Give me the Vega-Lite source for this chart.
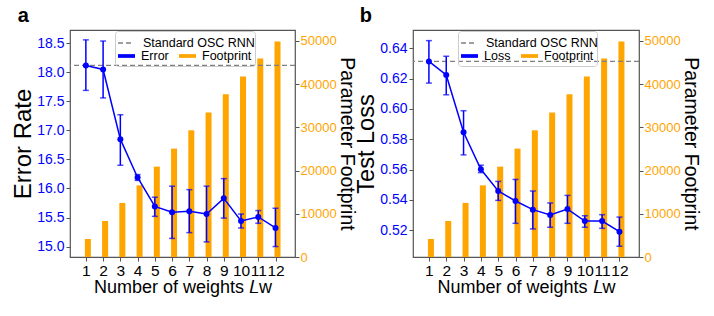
{
  "$schema": "https://vega.github.io/schema/vega-lite/v6.json",
  "padding": {"left": 11, "top": 5, "right": 0, "bottom": 0},
  "spacing": -3,
  "config": {
    "font": "Liberation Sans",
    "view": {"stroke": "#555555", "strokeWidth": 1.2},
    "axis": {"labelFont": "Liberation Sans", "titleFont": "Liberation Sans", "titleFontWeight": "normal", "titleColor": "black", "grid": false, "domain": false, "tickColor": "#555555", "tickSize": 4, "tickWidth": 1, "labelFlush": false, "labelOverlap": false},
    "legend": {"labelFont": "Liberation Sans", "titleFont": "Liberation Sans", "labelColor": "black"}
  },
  "datasets": {
    "a": [
      {"k": 1, "v": 18.12, "lo": 17.69, "hi": 18.56, "fp": 4170},
      {"k": 2, "v": 18.05, "lo": 17.56, "hi": 18.54, "fp": 8330},
      {"k": 3, "v": 16.85, "lo": 16.40, "hi": 17.27, "fp": 12500},
      {"k": 4, "v": 16.19, "lo": 16.14, "hi": 16.24, "fp": 16570},
      {"k": 5, "v": 15.69, "lo": 15.52, "hi": 15.85, "fp": 20900},
      {"k": 6, "v": 15.59, "lo": 15.14, "hi": 16.04, "fp": 25070},
      {"k": 7, "v": 15.61, "lo": 15.24, "hi": 15.98, "fp": 29300},
      {"k": 8, "v": 15.56, "lo": 15.08, "hi": 16.04, "fp": 33400},
      {"k": 9, "v": 15.83, "lo": 15.49, "hi": 16.17, "fp": 37640},
      {"k": 10, "v": 15.44, "lo": 15.32, "hi": 15.56, "fp": 41740},
      {"k": 11, "v": 15.51, "lo": 15.40, "hi": 15.62, "fp": 45900},
      {"k": 12, "v": 15.32, "lo": 15.00, "hi": 15.66, "fp": 49850}
    ],
    "b": [
      {"k": 1, "v": 0.6313, "lo": 0.6170, "hi": 0.6450, "fp": 4170},
      {"k": 2, "v": 0.6224, "lo": 0.6093, "hi": 0.6347, "fp": 8330},
      {"k": 3, "v": 0.5846, "lo": 0.5697, "hi": 0.5988, "fp": 12500},
      {"k": 4, "v": 0.5602, "lo": 0.5580, "hi": 0.5629, "fp": 16570},
      {"k": 5, "v": 0.5459, "lo": 0.5397, "hi": 0.5522, "fp": 20900},
      {"k": 6, "v": 0.5393, "lo": 0.5246, "hi": 0.5535, "fp": 25070},
      {"k": 7, "v": 0.5336, "lo": 0.5209, "hi": 0.5459, "fp": 29300},
      {"k": 8, "v": 0.5301, "lo": 0.5220, "hi": 0.5380, "fp": 33400},
      {"k": 9, "v": 0.5340, "lo": 0.5246, "hi": 0.5430, "fp": 37640},
      {"k": 10, "v": 0.5261, "lo": 0.5220, "hi": 0.5296, "fp": 41740},
      {"k": 11, "v": 0.5261, "lo": 0.5213, "hi": 0.5303, "fp": 45900},
      {"k": 12, "v": 0.5191, "lo": 0.5095, "hi": 0.5287, "fp": 49850}
    ],
    "stdA": [{"std": 18.12}],
    "stdB": [{"std": 0.6313}]
  },
  "hconcat": [
    {
      "title": {"text": "a", "anchor": "start", "frame": "bounds", "fontSize": 20, "fontWeight": "bold", "dx": 6, "offset": 4},
      "width": 225,
      "height": 227,
      "data": {"name": "a"},
      "layer": [
        {
          "mark": {"type": "bar", "width": 6, "xOffset": 2},
          "encoding": {
            "x": {"field": "k", "type": "quantitative", "scale": {"domain": [0.37, 12.84], "nice": false, "zero": false},
                  "axis": {"values": [1,2,3,4,5,6,7,8,9,10,11,12], "labelOverlap": false, "labelFontSize": 15.5, "labelColor": "black", "labelPadding": 2, "title": "Number of weights 𝐿ᴡ", "titleFontSize": 18, "titlePadding": 0}},
            "y": {"field": "fp", "type": "quantitative", "scale": {"domain": [0, 52500], "nice": false},
                  "axis": {"orient": "right", "values": [0,10000,20000,30000,40000,50000], "labelOverlap": false, "format": "d", "labelColor": "#FFA500", "labelFontSize": 13, "labelPadding": 1, "title": "Parameter Footprint", "titleFontSize": 19.5, "titlePadding": 0}},
            "color": {"datum": "Footprint", "scale": {"domain": ["Error", "Footprint"], "range": ["#0000FF", "#FFA500"]},
                      "legend": {"orient": "none", "legendX": 45, "legendY": 1, "direction": "horizontal", "title": "                                      ", "titleColor": "rgba(0,0,0,0)", "titleFontSize": 12.5, "titleFontWeight": "normal", "titlePadding": 1, "strokeColor": "#cccccc", "cornerRadius": 3, "padding": 3, "symbolType": "M-1,-0.22H1V0.22H-1Z", "symbolSize": 289, "symbolStrokeWidth": 0, "labelFontSize": 12.5, "labelOffset": 6, "columnPadding": 10}}
          }
        },
        {
          "layer": [
            {
              "data": {"name": "stdA"},
              "mark": {"type": "rule", "color": "#808080", "strokeWidth": 1.3},
              "encoding": {
                "y": {"field": "std", "type": "quantitative", "scale": {"domain": [14.82, 18.73], "nice": false, "zero": false},
                      "axis": {"orient": "left", "values": [15,15.5,16,16.5,17,17.5,18,18.5], "labelOverlap": false, "format": ".1f", "labelColor": "#0000FF", "labelFontSize": 14, "labelPadding": 2, "title": "Error Rate", "titleFontSize": 24, "titlePadding": 1}},
                "strokeDash": {"datum": "Standard OSC RNN", "scale": {"range": [[5, 3]]},
                               "legend": {"orient": "none", "legendX": 47, "legendY": 4, "title": null, "symbolType": "stroke", "symbolStrokeColor": "#808080", "symbolStrokeWidth": 1.5, "symbolSize": 256, "labelFontSize": 12.5, "labelOffset": 8, "padding": 0}}
              }
            },
            {
              "mark": {"type": "errorbar", "ticks": {"size": 6}, "color": "#0000FF", "thickness": 1.5},
              "encoding": {
                "x": {"field": "k", "type": "quantitative", "axis": {"values": [1,2,3,4,5,6,7,8,9,10,11,12], "labelOverlap": false, "labelFontSize": 15.5, "labelColor": "black", "labelPadding": 2, "title": "Number of weights 𝐿ᴡ", "titleFontSize": 18, "titlePadding": 0}},
                "y": {"field": "lo", "type": "quantitative", "axis": {"orient": "left", "values": [15,15.5,16,16.5,17,17.5,18,18.5], "labelOverlap": false, "format": ".1f", "labelColor": "#0000FF", "labelFontSize": 14, "labelPadding": 2, "title": "Error Rate", "titleFontSize": 24, "titlePadding": 1}},
                "y2": {"field": "hi"}
              }
            },
            {
              "mark": {"type": "line", "strokeWidth": 1.5},
              "encoding": {
                "x": {"field": "k", "type": "quantitative", "axis": {"values": [1,2,3,4,5,6,7,8,9,10,11,12], "labelOverlap": false, "labelFontSize": 15.5, "labelColor": "black", "labelPadding": 2, "title": "Number of weights 𝐿ᴡ", "titleFontSize": 18, "titlePadding": 0}},
                "y": {"field": "v", "type": "quantitative", "axis": {"orient": "left", "values": [15,15.5,16,16.5,17,17.5,18,18.5], "labelOverlap": false, "format": ".1f", "labelColor": "#0000FF", "labelFontSize": 14, "labelPadding": 2, "title": "Error Rate", "titleFontSize": 24, "titlePadding": 1}},
                "color": {"datum": "Error"}
              }
            },
            {
              "mark": {"type": "point", "filled": true, "size": 36, "color": "#0000FF", "opacity": 1},
              "encoding": {
                "x": {"field": "k", "type": "quantitative", "axis": {"values": [1,2,3,4,5,6,7,8,9,10,11,12], "labelOverlap": false, "labelFontSize": 15.5, "labelColor": "black", "labelPadding": 2, "title": "Number of weights 𝐿ᴡ", "titleFontSize": 18, "titlePadding": 0}},
                "y": {"field": "v", "type": "quantitative", "axis": {"orient": "left", "values": [15,15.5,16,16.5,17,17.5,18,18.5], "labelOverlap": false, "format": ".1f", "labelColor": "#0000FF", "labelFontSize": 14, "labelPadding": 2, "title": "Error Rate", "titleFontSize": 24, "titlePadding": 1}}
              }
            }
          ]
        }
      ],
      "resolve": {"scale": {"y": "independent"}}
    },
    {
      "title": {"text": "b", "anchor": "start", "frame": "bounds", "fontSize": 20, "fontWeight": "bold", "dx": 5, "offset": 4},
      "width": 226,
      "height": 227,
      "data": {"name": "b"},
      "layer": [
        {
          "mark": {"type": "bar", "width": 6, "xOffset": 2},
          "encoding": {
            "x": {"field": "k", "type": "quantitative", "scale": {"domain": [0.37, 12.84], "nice": false, "zero": false},
                  "axis": {"values": [1,2,3,4,5,6,7,8,9,10,11,12], "labelOverlap": false, "labelFontSize": 15.5, "labelColor": "black", "labelPadding": 2, "title": "Number of weights 𝐿ᴡ", "titleFontSize": 18, "titlePadding": 0}},
            "y": {"field": "fp", "type": "quantitative", "scale": {"domain": [0, 52500], "nice": false},
                  "axis": {"orient": "right", "values": [0,10000,20000,30000,40000,50000], "labelOverlap": false, "format": "d", "labelColor": "#FFA500", "labelFontSize": 13, "labelPadding": 1, "title": "Parameter Footprint", "titleFontSize": 19.5, "titlePadding": 0}},
            "color": {"datum": "Footprint", "scale": {"domain": ["Loss", "Footprint"], "range": ["#0000FF", "#FFA500"]},
                      "legend": {"orient": "none", "legendX": 45, "legendY": 1, "direction": "horizontal", "title": "                                      ", "titleColor": "rgba(0,0,0,0)", "titleFontSize": 12.5, "titleFontWeight": "normal", "titlePadding": 1, "strokeColor": "#cccccc", "cornerRadius": 3, "padding": 3, "symbolType": "M-1,-0.22H1V0.22H-1Z", "symbolSize": 289, "symbolStrokeWidth": 0, "labelFontSize": 12.5, "labelOffset": 6, "columnPadding": 10}}
          }
        },
        {
          "layer": [
            {
              "data": {"name": "stdB"},
              "mark": {"type": "rule", "color": "#808080", "strokeWidth": 1.3},
              "encoding": {
                "y": {"field": "std", "type": "quantitative", "scale": {"domain": [0.5024, 0.652], "nice": false, "zero": false},
                      "axis": {"orient": "left", "values": [0.52,0.54,0.56,0.58,0.60,0.62,0.64], "labelOverlap": false, "format": ".2f", "labelColor": "#0000FF", "labelFontSize": 14, "labelPadding": 2, "title": "Test Loss", "titleFontSize": 23.5, "titlePadding": 1}},
                "strokeDash": {"datum": "Standard OSC RNN", "scale": {"range": [[5, 3]]},
                               "legend": {"orient": "none", "legendX": 47, "legendY": 4, "title": null, "symbolType": "stroke", "symbolStrokeColor": "#808080", "symbolStrokeWidth": 1.5, "symbolSize": 256, "labelFontSize": 12.5, "labelOffset": 8, "padding": 0}}
              }
            },
            {
              "mark": {"type": "errorbar", "ticks": {"size": 6}, "color": "#0000FF", "thickness": 1.5},
              "encoding": {
                "x": {"field": "k", "type": "quantitative", "axis": {"values": [1,2,3,4,5,6,7,8,9,10,11,12], "labelOverlap": false, "labelFontSize": 15.5, "labelColor": "black", "labelPadding": 2, "title": "Number of weights 𝐿ᴡ", "titleFontSize": 18, "titlePadding": 0}},
                "y": {"field": "lo", "type": "quantitative", "axis": {"orient": "left", "values": [0.52,0.54,0.56,0.58,0.60,0.62,0.64], "labelOverlap": false, "format": ".2f", "labelColor": "#0000FF", "labelFontSize": 14, "labelPadding": 2, "title": "Test Loss", "titleFontSize": 23.5, "titlePadding": 1}},
                "y2": {"field": "hi"}
              }
            },
            {
              "mark": {"type": "line", "strokeWidth": 1.5},
              "encoding": {
                "x": {"field": "k", "type": "quantitative", "axis": {"values": [1,2,3,4,5,6,7,8,9,10,11,12], "labelOverlap": false, "labelFontSize": 15.5, "labelColor": "black", "labelPadding": 2, "title": "Number of weights 𝐿ᴡ", "titleFontSize": 18, "titlePadding": 0}},
                "y": {"field": "v", "type": "quantitative", "axis": {"orient": "left", "values": [0.52,0.54,0.56,0.58,0.60,0.62,0.64], "labelOverlap": false, "format": ".2f", "labelColor": "#0000FF", "labelFontSize": 14, "labelPadding": 2, "title": "Test Loss", "titleFontSize": 23.5, "titlePadding": 1}},
                "color": {"datum": "Loss"}
              }
            },
            {
              "mark": {"type": "point", "filled": true, "size": 36, "color": "#0000FF", "opacity": 1},
              "encoding": {
                "x": {"field": "k", "type": "quantitative", "axis": {"values": [1,2,3,4,5,6,7,8,9,10,11,12], "labelOverlap": false, "labelFontSize": 15.5, "labelColor": "black", "labelPadding": 2, "title": "Number of weights 𝐿ᴡ", "titleFontSize": 18, "titlePadding": 0}},
                "y": {"field": "v", "type": "quantitative", "axis": {"orient": "left", "values": [0.52,0.54,0.56,0.58,0.60,0.62,0.64], "labelOverlap": false, "format": ".2f", "labelColor": "#0000FF", "labelFontSize": 14, "labelPadding": 2, "title": "Test Loss", "titleFontSize": 23.5, "titlePadding": 1}}
              }
            }
          ]
        }
      ],
      "resolve": {"scale": {"y": "independent"}}
    }
  ],
  "resolve": {"scale": {"color": "independent", "strokeDash": "independent"}, "legend": {"color": "independent", "strokeDash": "independent"}}
}
